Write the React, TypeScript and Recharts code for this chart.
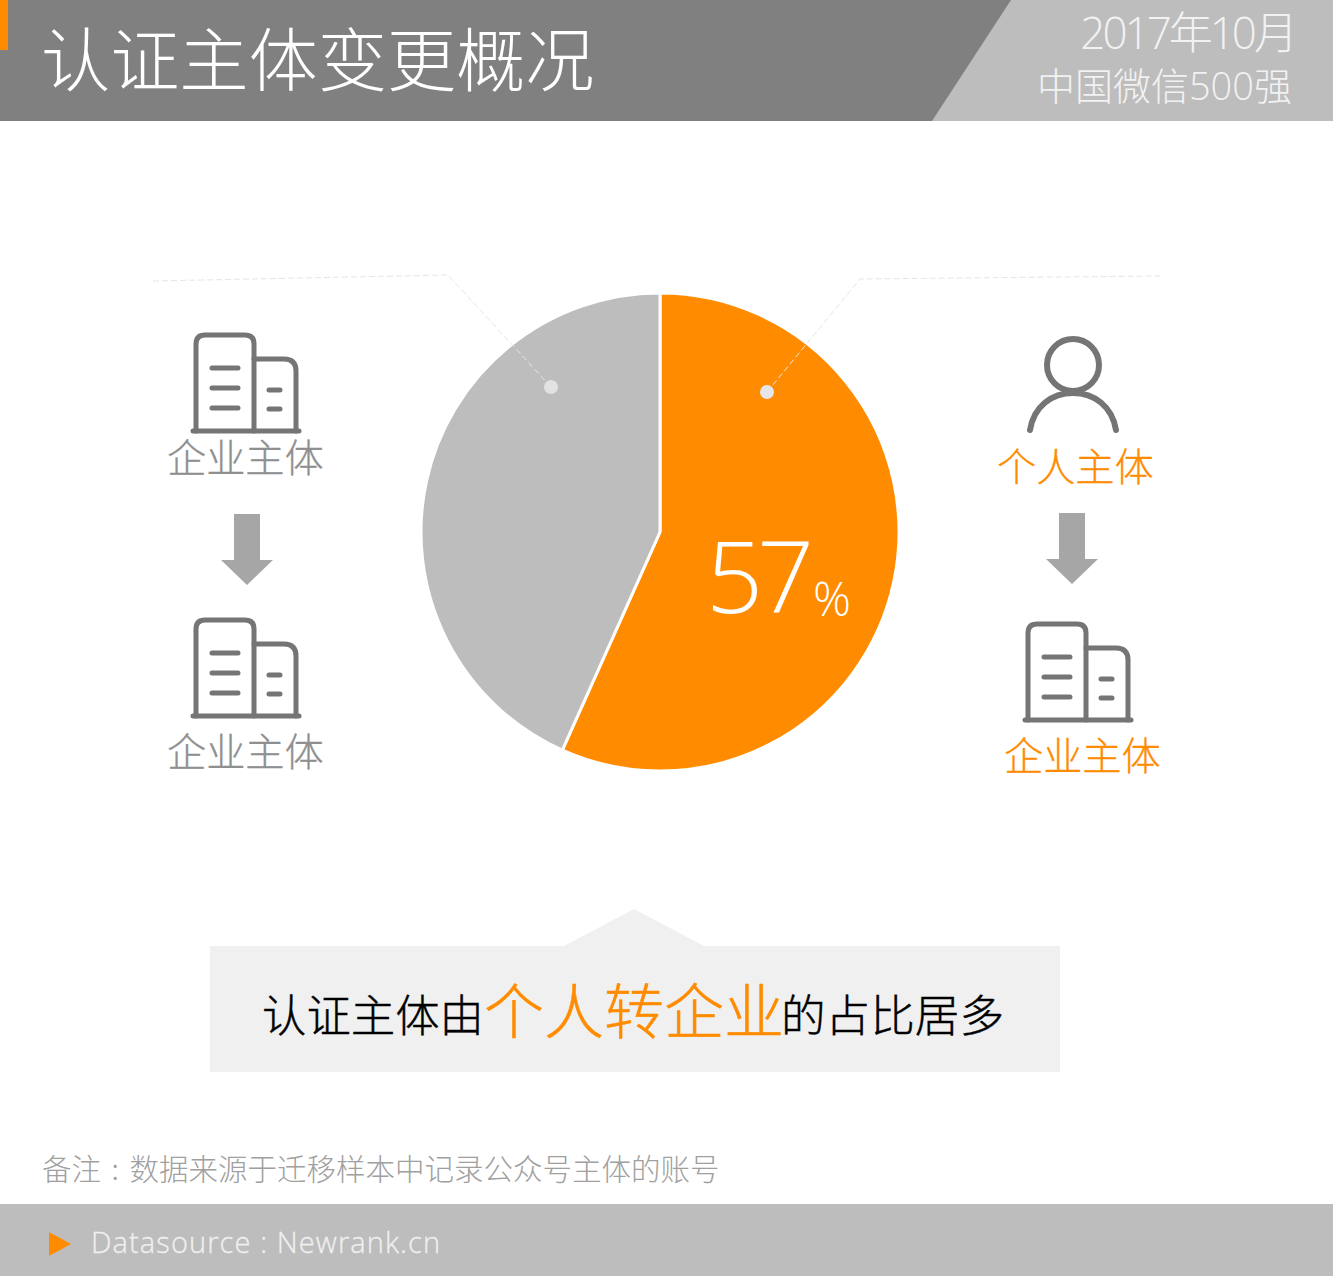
import { PieChart, Pie, Cell } from 'recharts';

const sliceNames = ['个人转企业', '其他'];
const sliceValues = [56.7, 43.3];
const sliceColors = ['#ff8c00', '#bdbdbd'];
const percentLabel = '57';

const titleText = '认证主体变更概况';
const dateText = '2017年10月';
const sourceListText = '中国微信500强';
const noteParts = ['备注', ' : ', '数据来源于迁移样本中记录公众号主体的账号'];
const footerText = 'Datasource : Newrank.cn';
const summaryParts = ['认证主体由', '个人转企业', '的占比居多'];
const companyLabel = '企业主体';
const personLabel = '个人主体';

const pieData = sliceNames.map((name, i) => ({ name, value: sliceValues[i] }));

const CJK = '"Noto Sans CJK SC", "Noto Sans", sans-serif';
const LATIN = '"Open Sans", "Noto Sans CJK SC", sans-serif';
const ORANGE = '#ff8c00';
const ICON = '#757575';

function Building({ dx, dy }: { dx: number; dy: number }) {
  return (
    <g transform={`translate(${dx} ${dy})`} fill="none" stroke={ICON} strokeWidth={5} strokeLinecap="round">
      <path d="M196 431 V344 Q196 335 205 335 H245 Q254 335 254 344 V431" />
      <path d="M254 359 H284 Q296 359 296 371 V431" />
      <path d="M193 431 H299" />
      <path d="M212 368 H238 M212 388 H238 M212 408 H238" />
      <path d="M269 390 H280 M269 409 H280" />
    </g>
  );
}

function DownArrow({ cx, top }: { cx: number; top: number }) {
  const p = [
    [cx - 13, top], [cx + 13, top], [cx + 13, top + 46], [cx + 26, top + 46],
    [cx, top + 71], [cx - 26, top + 46], [cx - 13, top + 46],
  ];
  return <polygon points={p.map((q) => q.join(',')).join(' ')} fill="#a6a6a6" />;
}

export default function App() {
  return (
    <div style={{ position: 'absolute', left: 0, top: 0, width: 1333, height: 1276, overflow: 'hidden', background: '#fff' }}>
      <svg width={1333} height={1276} style={{ position: 'absolute', left: 0, top: 0 }}>
        <rect x={0} y={0} width={1333} height={121} fill="#808080" />
        <polygon points="1011,0 1333,0 1333,121 932,121" fill="#bdbdbd" />
        <rect x={0} y={0} width={8} height={50} fill={ORANGE} />
        <polygon points="564,946 634,909 704,946" fill="#f0f0f0" />
        <rect x={210} y={946} width={850} height={126} fill="#f0f0f0" />
        <rect x={0} y={1204} width={1333} height={72} fill="#bdbdbd" />
        <polygon points="49,1232 71,1244 49,1256" fill={ORANGE} />
      </svg>

      <div style={{ position: 'absolute', left: 0, top: 0 }}>
        <PieChart width={1333} height={1276} margin={{ top: 0, right: 0, bottom: 0, left: 0 }}>
          <Pie
            data={pieData}
            dataKey="value"
            nameKey="name"
            cx={660}
            cy={532}
            innerRadius={0}
            outerRadius={239}
            startAngle={90}
            endAngle={-270}
            stroke="#fff"
            strokeWidth={3}
            isAnimationActive={false}
          >
            {pieData.map((d, i) => (
              <Cell key={d.name} fill={sliceColors[i]} />
            ))}
          </Pie>
        </PieChart>
      </div>

      <svg width={1333} height={1276} style={{ position: 'absolute', left: 0, top: 0 }}>
        <path d="M153 281 L448 275 L551 387" fill="none" stroke="#e6e6e6" strokeWidth={1} strokeDasharray="6 3" />
        <path d="M767 392 L860 279 L1160 276" fill="none" stroke="#e6e6e6" strokeWidth={1} strokeDasharray="6 3" />
        <circle cx={551} cy={387} r={7} fill="#e2e2e2" />
        <circle cx={767} cy={392} r={7} fill="#e6e6ea" />

        <text x={41} y={86} fontFamily={CJK} fontWeight={300} fontSize={69.2} fill="#fff">{titleText}</text>
        <text x={1295} y={49} textAnchor="end" fontFamily={LATIN} fontWeight={300} fontSize={44} letterSpacing={-3} fill="#f2f2f2">{dateText}</text>
        <text x={1292} y={100} textAnchor="end" fontFamily={LATIN} fontWeight={300} fontSize={38} fill="#f2f2f2">{sourceListText}</text>

        <Building dx={0} dy={0} />
        <text x={167} y={472} fontFamily={CJK} fontWeight={300} fontSize={39.2} stroke="#8f8f8f" strokeWidth={0.3} fill="#8f8f8f">{companyLabel}</text>
        <DownArrow cx={247} top={514} />
        <Building dx={0} dy={285} />
        <text x={167} y={766} fontFamily={CJK} fontWeight={300} fontSize={39.2} stroke="#8f8f8f" strokeWidth={0.3} fill="#8f8f8f">{companyLabel}</text>

        <g fill="none" stroke={ICON} strokeWidth={6} strokeLinecap="round">
          <circle cx={1073} cy={365} r={26} />
          <path d="M1030 430 C1034 406 1052 393 1073 393 C1094 393 1112 406 1116 430" />
        </g>
        <text x={997} y={481} fontFamily={CJK} fontWeight={300} fontSize={39.2} stroke={ORANGE} strokeWidth={0.3} fill={ORANGE}>{personLabel}</text>
        <DownArrow cx={1072} top={513} />
        <Building dx={832} dy={289} />
        <text x={1004} y={770} fontFamily={CJK} fontWeight={300} fontSize={39.2} stroke={ORANGE} strokeWidth={0.3} fill={ORANGE}>{companyLabel}</text>

        <text x={706} y={613} fontFamily={LATIN} fontWeight={300} fontSize={100} letterSpacing={-6} fill="#fff">{percentLabel}</text>
        <text x={813} y={616} fontFamily={LATIN} fontWeight={300} fontSize={47} letterSpacing={-2} fill="#fff">%</text>

        <text x={262} y={1032} fontFamily={CJK} fontWeight={300} fontSize={44.4} stroke="#000" strokeWidth={0.4} fill="#000">{summaryParts[0]}</text>
        <text x={484} y={1034} fontFamily={CJK} fontWeight={300} fontSize={60} stroke={ORANGE} strokeWidth={0.5} fill={ORANGE}>{summaryParts[1]}</text>
        <text x={781} y={1032} fontFamily={CJK} fontWeight={300} fontSize={44.6} stroke="#000" strokeWidth={0.4} fill="#000">{summaryParts[2]}</text>

        <text x={42} y={1180} fontFamily={CJK} fontWeight={300} fontSize={29.5} fill="#a0a0a0">
          {noteParts[0]}
          <tspan dx={4}>{noteParts[1]}</tspan>
          <tspan dx={4}>{noteParts[2]}</tspan>
        </text>
        <text x={91} y={1253} fontFamily={LATIN} fontWeight={300} fontSize={29} letterSpacing={1.1} stroke="#f0f0f0" strokeWidth={0.3} fill="#f0f0f0">{footerText}</text>
      </svg>
    </div>
  );
}
